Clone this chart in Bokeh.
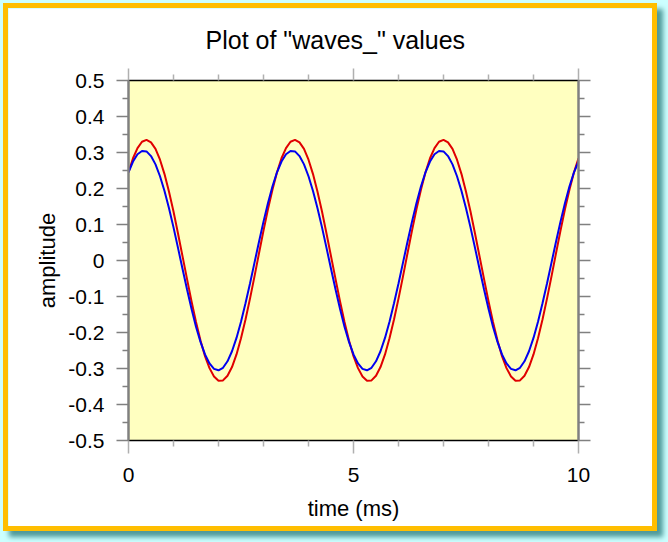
from bokeh.plotting import figure
from bokeh.models import Range1d, LinearAxis, FixedTicker, GlobalInlineStyleSheet, CustomJSTickFormatter
from bokeh.embed import file_html
from bokeh.resources import INLINE

# sampling grid (ms)
time_ms = [round(0.1 * i, 1) for i in range(101)]

# red wave, every 0.1 ms
red_wave = [
    0.245, 0.284, 0.312, 0.330, 0.335, 0.328, 0.310, 0.280, 0.240, 0.191, 0.136,
    0.075, 0.012, -0.051, -0.113, -0.171, -0.222, -0.266, -0.299, -0.322, -0.334,
    -0.333, -0.320, -0.296, -0.261, -0.216, -0.164, -0.106, -0.044, 0.020, 0.083,
    0.143, 0.197,
    0.245, 0.284, 0.312, 0.330, 0.335, 0.328, 0.310, 0.280, 0.240, 0.191, 0.136,
    0.075, 0.012, -0.051, -0.113, -0.171, -0.222, -0.266, -0.299, -0.322, -0.334,
    -0.333, -0.320, -0.296, -0.261, -0.216, -0.164, -0.106, -0.044, 0.020, 0.083,
    0.143, 0.197,
    0.245, 0.284, 0.312, 0.330, 0.335, 0.328, 0.310, 0.280, 0.240, 0.191, 0.136,
    0.075, 0.012, -0.051, -0.113, -0.171, -0.222, -0.266, -0.299, -0.322, -0.334,
    -0.333, -0.320, -0.296, -0.261, -0.216, -0.164, -0.106, -0.044, 0.020, 0.083,
    0.143, 0.197,
    0.245, 0.284,
]

# blue wave, every 0.1 ms
blue_wave = [
    0.245, 0.275, 0.295, 0.304, 0.303, 0.290, 0.267, 0.234, 0.193, 0.145, 0.092,
    0.035, -0.023, -0.080, -0.134, -0.184, -0.226, -0.261, -0.286, -0.301, -0.305,
    -0.298, -0.280, -0.252, -0.215, -0.170, -0.119, -0.064, -0.006, 0.052, 0.108,
    0.160, 0.206,
    0.245, 0.275, 0.295, 0.304, 0.303, 0.290, 0.267, 0.234, 0.193, 0.145, 0.092,
    0.035, -0.023, -0.080, -0.134, -0.184, -0.226, -0.261, -0.286, -0.301, -0.305,
    -0.298, -0.280, -0.252, -0.215, -0.170, -0.119, -0.064, -0.006, 0.052, 0.108,
    0.160, 0.206,
    0.245, 0.275, 0.295, 0.304, 0.303, 0.290, 0.267, 0.234, 0.193, 0.145, 0.092,
    0.035, -0.023, -0.080, -0.134, -0.184, -0.226, -0.261, -0.286, -0.301, -0.305,
    -0.298, -0.280, -0.252, -0.215, -0.170, -0.119, -0.064, -0.006, 0.052, 0.108,
    0.160, 0.206,
    0.245, 0.275,
]

x_ticks = [0, 5, 10]
x_minor = [1, 2, 3, 4, 6, 7, 8, 9]
y_ticks = [-0.5, -0.4, -0.3, -0.2, -0.1, 0, 0.1, 0.2, 0.3, 0.4, 0.5]
y_minor = [-0.45, -0.35, -0.25, -0.15, -0.05, 0.05, 0.15, 0.25, 0.35, 0.45]
y_labels = {-0.5: "-0.5", -0.4: "-0.4", -0.3: "-0.3", -0.2: "-0.2", -0.1: "-0.1", 0: "0",
            0.1: "0.1", 0.2: "0.2", 0.3: "0.3", 0.4: "0.4", 0.5: "0.5"}

FONT = "Liberation Sans"

p = figure(width=644, height=518,
           x_range=Range1d(0, 10), y_range=Range1d(-0.5, 0.5),
           output_backend="svg", toolbar_location=None,
           x_axis_location=None, y_axis_location=None,
           min_border_left=120, min_border_right=74,
           min_border_top=72, min_border_bottom=86)

p.background_fill_color = "#ffffc0"
p.border_fill_color = "white"
p.outline_line_color = None
p.grid.visible = False

p.title.text = 'Plot of "waves_" values'
p.title.align = "left"
p.title.offset = 77
p.title.text_font = FONT
p.title.text_font_size = "25px"
p.title.text_font_style = "normal"
p.title.text_color = "black"
p.title.standoff = 30

blank = CustomJSTickFormatter(code="return ''")


def style_axis(ax, line_color, line_width, tick_color, major_out, minor_out):
    ax.axis_line_color = line_color
    ax.axis_line_width = line_width
    ax.major_tick_line_color = tick_color
    ax.minor_tick_line_color = tick_color
    ax.major_tick_line_width = 1.5
    ax.minor_tick_line_width = 1.5
    ax.major_tick_in = 0
    ax.minor_tick_in = 0
    ax.major_tick_out = major_out
    ax.minor_tick_out = minor_out
    ax.major_label_text_font = FONT
    ax.major_label_text_font_size = "21px"
    ax.major_label_text_color = "black"
    ax.axis_label_text_font = FONT
    ax.axis_label_text_font_size = "22px"
    ax.axis_label_text_font_style = "normal"
    ax.axis_label_text_color = "black"


left = LinearAxis(ticker=FixedTicker(ticks=y_ticks, minor_ticks=y_minor),
                  axis_label="amplitude")
left.major_label_overrides = y_labels
style_axis(left, "#808080", 2.5, "#808080", 12, 6)
left.major_label_standoff = 12
left.axis_label_standoff = 5
p.add_layout(left, "left")

right = LinearAxis(ticker=FixedTicker(ticks=y_ticks, minor_ticks=y_minor), formatter=blank)
style_axis(right, "#808080", 2.5, "#808080", 12, 6)
right.major_label_standoff = 0
p.add_layout(right, "right")

bottom = LinearAxis(ticker=FixedTicker(ticks=x_ticks, minor_ticks=x_minor),
                    axis_label="time (ms)")
style_axis(bottom, "black", 1.5, "#b0b0b0", 13, 6)
bottom.major_label_standoff = 14
bottom.axis_label_standoff = 11
p.add_layout(bottom, "below")

top = LinearAxis(ticker=FixedTicker(ticks=x_ticks, minor_ticks=x_minor), formatter=blank)
style_axis(top, "black", 1.5, "#b0b0b0", 12, 6)
top.major_label_standoff = 0
p.add_layout(top, "above")

p.line(time_ms, red_wave, line_color="#e00000", line_width=2)
p.line(time_ms, blue_wave, line_color="#0000f0", line_width=2)

# orange frame and teal drop shadow drawn as box-shadows (they do not change the canvas size)
p.styles = {"position": "absolute", "left": "8px", "top": "8px",
            "box-shadow": "0 0 0 5px #ffbe00, 6px 6px 5px 5px #4f9a9a"}
p.stylesheets = [GlobalInlineStyleSheet(css="body { background-color: #ccffff; }")]

open("out.html", "w").write(file_html(p, INLINE))
